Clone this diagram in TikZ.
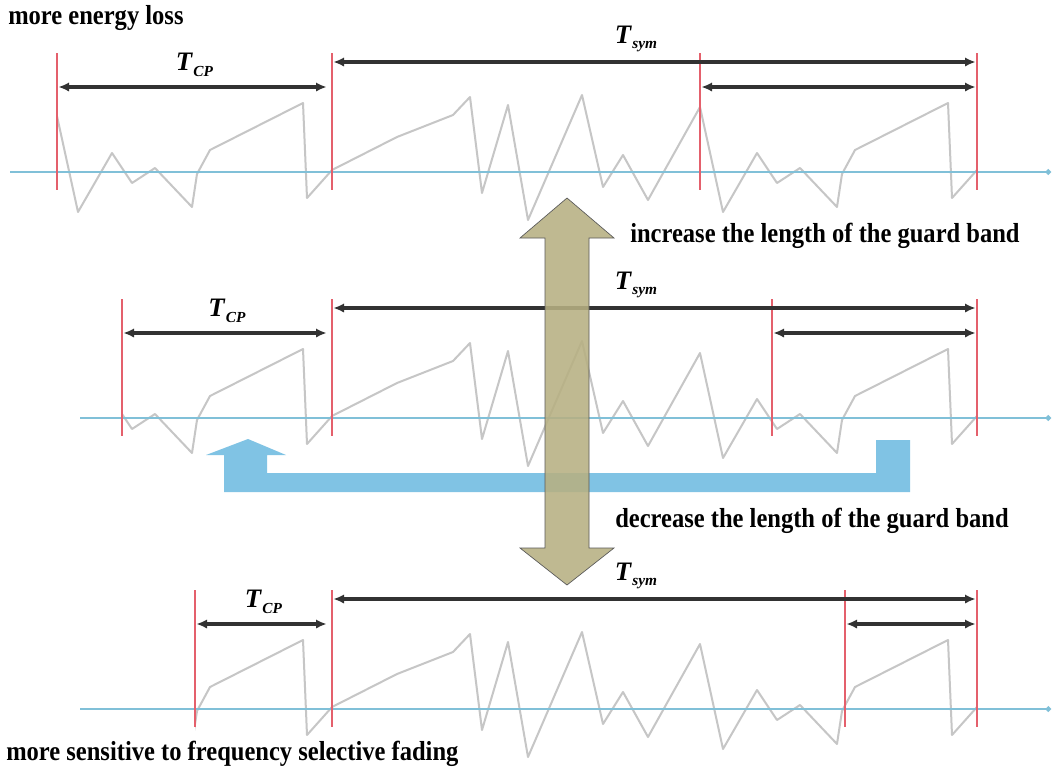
\documentclass[tikz,border=0pt]{standalone}
\usepackage{fontspec}
\setmainfont{Liberation Serif}
\usetikzlibrary{arrows.meta, calc}
\definecolor{wavegray}{RGB}{198,198,198}
\definecolor{zeroblue}{RGB}{128,192,216}
\definecolor{cpred}{RGB}{228,96,108}
\definecolor{dimgray}{RGB}{50,50,50}
\definecolor{bandkhaki}{RGB}{183,176,130}
\definecolor{shiftblue}{RGB}{128,195,228}

\newcommand{\tlabel}[1]{\textbf{\textit{T}}\kern0.3pt\raisebox{-0.45ex}{\fontsize{11.5}{12}\selectfont\textbf{\textit{#1}}}}
\newcommand{\tallbf}[1]{\scalebox{1}[1.12]{\bfseries #1}}

\begin{document}
\begin{tikzpicture}[
    x=0.75pt, y=-0.75pt,
    wave/.style={draw=wavegray, line width=1.5pt, line join=round},
    zeroline/.style={draw=zeroblue, line width=1.6pt, -{Circle[length=4pt]}},
    cpline/.style={draw=cpred, line width=1.6pt},
    dimarr/.style={{Latex[length=8pt,width=7pt]}-{Latex[length=8pt,width=7pt]},
        draw=dimgray, line width=2.8pt, shorten <=1pt, shorten >=1pt},
    tlab/.style={font=\fontsize{20}{21}\selectfont, inner sep=0pt},
    remark/.style={font=\fontsize{18.4}{20}\selectfont, inner sep=0pt, anchor=west},
    symwave/.pic={
        \draw[wave] (0,-2) -- (65,-35) -- (121,-57) -- (138,-75) -- (150,21) -- (176,-67)
            -- (196,48) -- (250,-77) -- (271,15) -- (291,-17) -- (316,28) -- (368,-65)
            -- (391,40) -- (425,-19) -- (445,11) -- (468,-4) -- (505,35) -- (510,2)
            -- (523,-22) -- (616,-69) -- (620,26) -- (645,-2);
    },
]
\useasboundingbox (0,0) rectangle (1057,769);
\fill[white] (0,0) rectangle (1057,769);

% three OFDM symbols, guard band shrinking from top to bottom
\foreach \r/\base/\cpx/\gx/\lx in {1/172/57/700/10, 2/418/122/772/80, 3/709/195/845/80} {
    \coordinate (cp\r) at (\cpx,\base);
    \coordinate (s\r) at (332,\base);
    \coordinate (g\r) at (\gx,\base);
    \coordinate (e\r) at (977,\base);
    \begin{scope}
        \clip (\cpx,0) rectangle (332,769);
        \pic at (-313,\base) {symwave};
    \end{scope}
    \pic at (s\r) {symwave};
    \draw[zeroline] (\lx,\base) -- (1051,\base);
    \foreach \p in {cp,s,g,e} {
        \draw[cpline] ($(\p\r)+(0,-119)$) -- ($(\p\r)+(0,18)$);
    }
    \draw[dimarr] ($(s\r)+(0,-110)$) -- ($(e\r)+(0,-110)$);
    \draw[dimarr] ($(g\r)+(0,-85)$) -- ($(e\r)+(0,-85)$);
    \draw[dimarr] ($(cp\r)+(0,-85)$) -- ($(s\r)+(-4,-85)$);
    \node[tlab] (tcp\r) at ($(cp\r)!0.5!(s\r)+(0,-107)$) {\tlabel{CP}};
    \node[tlab] (tsym\r) at ($(s\r)+(304,-133)$) {\tlabel{sym}};
}

% copy of the tail moved to the front
\fill[shiftblue] (248,439) -- (286,455) -- (267,455) -- (267,473) -- (876,473)
    -- (876,440) -- (910,440) -- (910,492) -- (224,492) -- (224,455) -- (206,455) -- cycle;

\filldraw[fill=bandkhaki, draw=black!65, line width=0.5pt, fill opacity=0.88]
    (567,198) -- (614,238) -- (589,238) -- (589,548) -- (614,548) -- (567,585)
    -- (520,548) -- (545,548) -- (545,238) -- (520,238) -- cycle;

\node[remark] (loss) at (8,18) {\tallbf{more energy loss}};
\node[remark] (inc) at (630,236) {\tallbf{increase the length of the guard band}};
\node[remark] (dec) at (615,521) {\tallbf{decrease the length of the guard band}};
\node[remark] (fading) at (6,754) {\tallbf{more sensitive to frequency selective fading}};
\end{tikzpicture}
\end{document}
